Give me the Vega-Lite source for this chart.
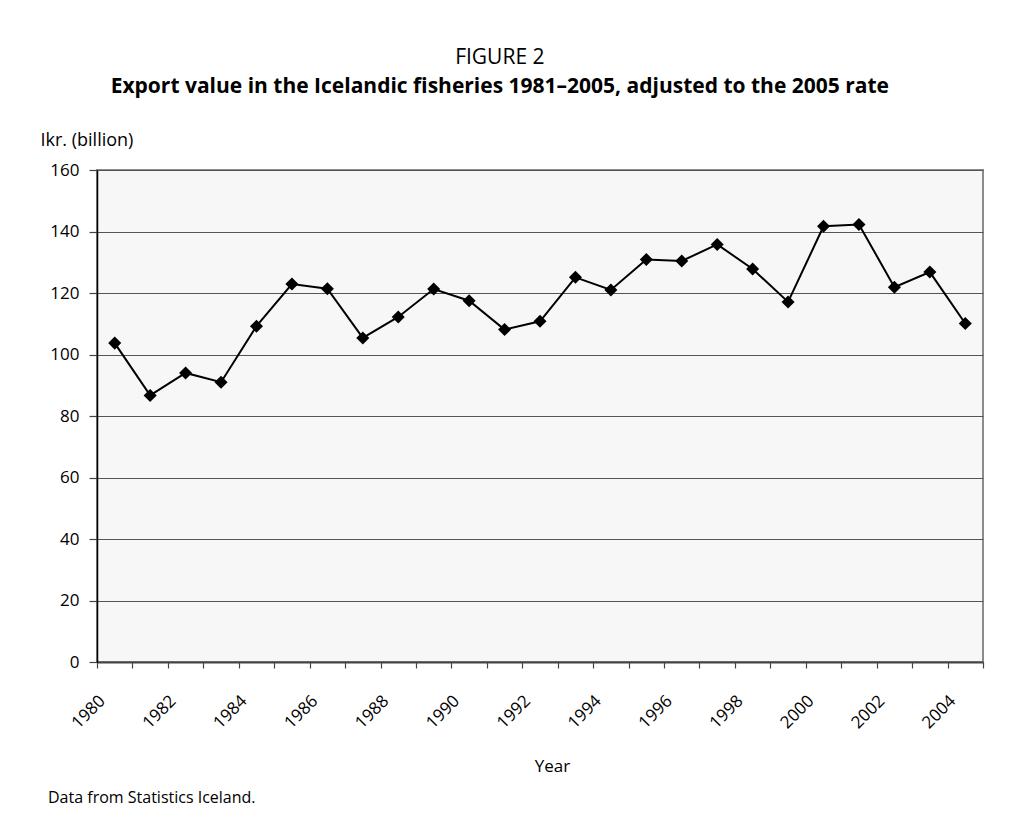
{
  "$schema": "https://vega.github.io/schema/vega-lite/v6.json",
  "background": "white",
  "padding": {"left": 39, "top": 47, "right": 40, "bottom": 20},
  "title": {
    "text": "FIGURE 2",
    "subtitle": "Export value in the Icelandic fisheries 1981–2005, adjusted to the 2005 rate",
    "font": "Open Sans",
    "fontSize": 21,
    "fontWeight": "normal",
    "color": "black",
    "subtitleFont": "Open Sans",
    "subtitleFontSize": 21,
    "subtitleFontWeight": "bold",
    "subtitleColor": "black",
    "subtitlePadding": 8,
    "anchor": "middle",
    "offset": 33,
    "dx": -17
  },
  "vconcat": [
    {
      "width": 886,
      "height": 492,
      "title": {
        "text": "Data from Statistics Iceland.",
        "orient": "bottom",
        "anchor": "start",
        "frame": "group",
        "font": "Open Sans",
        "fontSize": 16,
        "fontWeight": "normal",
        "color": "black",
        "dx": -49,
        "offset": 16
      },
      "data": {
        "values": [
          {"year": 1981, "value": 103.7},
          {"year": 1982, "value": 86.7},
          {"year": 1983, "value": 94.0},
          {"year": 1984, "value": 91.0},
          {"year": 1985, "value": 109.2},
          {"year": 1986, "value": 122.9},
          {"year": 1987, "value": 121.4},
          {"year": 1988, "value": 105.4},
          {"year": 1989, "value": 112.2},
          {"year": 1990, "value": 121.3},
          {"year": 1991, "value": 117.5},
          {"year": 1992, "value": 108.1},
          {"year": 1993, "value": 110.8},
          {"year": 1994, "value": 125.1},
          {"year": 1995, "value": 121.0},
          {"year": 1996, "value": 130.9},
          {"year": 1997, "value": 130.4},
          {"year": 1998, "value": 135.8},
          {"year": 1999, "value": 127.8},
          {"year": 2000, "value": 117.1},
          {"year": 2001, "value": 141.7},
          {"year": 2002, "value": 142.3},
          {"year": 2003, "value": 121.9},
          {"year": 2004, "value": 126.8},
          {"year": 2005, "value": 110.1}
        ]
      },
      "mark": {
        "type": "line",
        "color": "black",
        "strokeWidth": 2,
        "point": {"shape": "diamond", "size": 170, "filled": true, "color": "black", "opacity": 1}
      },
      "encoding": {
        "x": {
          "field": "year",
          "type": "quantitative",
          "scale": {"domain": [1980.5, 2005.5], "nice": false, "zero": false},
          "axis": {
            "title": "Year",
            "titleFont": "Open Sans",
            "titleFontSize": 17,
            "titleFontWeight": "normal",
            "titleColor": "black",
            "titleX": 455,
            "titlePadding": 27,
            "values": [1980.5, 1981.5, 1982.5, 1983.5, 1984.5, 1985.5, 1986.5, 1987.5, 1988.5, 1989.5, 1990.5, 1991.5, 1992.5, 1993.5, 1994.5, 1995.5, 1996.5, 1997.5, 1998.5, 1999.5, 2000.5, 2001.5, 2002.5, 2003.5, 2004.5, 2005.5],
            "labelExpr": "(datum.value - 0.5) % 2 == 0 ? '' + (datum.value - 0.5) : ''",
            "labelAngle": -45,
            "labelAlign": "right",
            "labelBaseline": "middle",
            "labelPadding": 30,
            "labelOffset": 5,
            "labelOverlap": false,
            "labelFlush": false,
            "labelFont": "Open Sans",
            "labelFontSize": 17,
            "labelColor": "black",
            "grid": false,
            "domainColor": "#444444",
            "domainWidth": 2,
            "tickColor": "#444444",
            "tickSize": 6,
            "tickWidth": 1.2
          }
        },
        "y": {
          "field": "value",
          "type": "quantitative",
          "scale": {"domain": [0, 160], "nice": false},
          "axis": {
            "title": "Ikr. (billion)",
            "titleAngle": 0,
            "titleAlign": "left",
            "titleBaseline": "alphabetic",
            "titleX": -57,
            "titleY": -25,
            "titleFont": "Open Sans",
            "titleFontSize": 18,
            "titleFontWeight": "normal",
            "titleColor": "black",
            "values": [0, 20, 40, 60, 80, 100, 120, 140, 160],
            "labelFont": "Open Sans",
            "labelFontSize": 17,
            "labelColor": "black",
            "labelPadding": 10,
            "grid": true,
            "gridColor": "#555555",
            "gridWidth": 1,
            "domainColor": "black",
            "domainWidth": 1.5,
            "tickColor": "#444444",
            "tickSize": 8,
            "tickWidth": 1.2
          }
        }
      }
    }
  ],
  "config": {
    "view": {"fill": "#f7f7f7", "stroke": "#8c8c8c", "strokeWidth": 2}
  }
}
